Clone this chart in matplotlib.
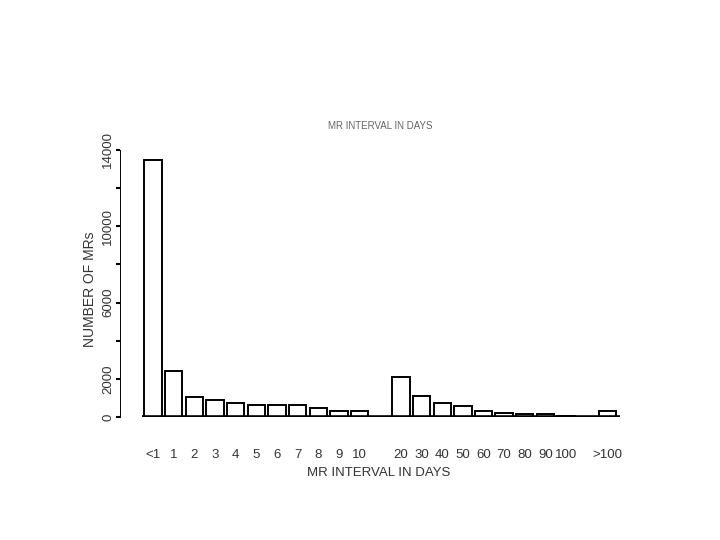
import matplotlib
matplotlib.use('Agg')
import matplotlib.pyplot as plt

plt.rcParams['font.family'] = ['Liberation Sans', 'DejaVu Sans']

# MR interval histogram
categories = ['<1', '1', '2', '3', '4', '5', '6', '7', '8', '9', '10',
              '20', '30', '40', '50', '60', '70', '80', '90', '100', '>100']
counts = [13500, 2420, 1050, 890, 760, 650, 650, 650, 470, 335, 335,
          2120, 1120, 760, 580, 335, 230, 160, 160, 70, 335]
# slot index of each bar, gaps after 10 and after 100
slots = list(range(0, 11)) + list(range(12, 21)) + [22]
y_ticks = [0, 2000, 4000, 6000, 8000, 10000, 12000, 14000]
y_tick_labels = ['0', '2000', '', '6000', '', '10000', '', '14000']

text_color = '#333333'

fig = plt.figure(figsize=(7.2, 5.4), dpi=100)
ax = fig.add_axes([120 / 720, 1 - 417 / 540, 500 / 720, 267 / 540])

ax.bar(slots, counts, width=0.84, color='white', edgecolor='black', linewidth=1.4, zorder=2)
ax.plot([-0.55, 22.61], [0, 0], color='black', linewidth=2.6, solid_capstyle='butt', zorder=3)

ax.set_xlim(-1.6, 22.61)
ax.set_ylim(0, 14000)

for side in ['top', 'right', 'bottom']:
    ax.spines[side].set_visible(False)
ax.spines['left'].set_linewidth(0.7)
ax.spines['left'].set_bounds(0, 14000)

ax.set_yticks(y_ticks)
ax.set_yticklabels(y_tick_labels, rotation=90, va='center')
ax.tick_params(axis='y', length=3.2, width=1.5, pad=0.8, labelsize=9.5, labelcolor=text_color)

ax.set_xticks(slots)
ax.set_xticklabels(categories)
ax.tick_params(axis='x', length=0, pad=23, labelsize=9.5, labelcolor=text_color)

ax.set_xlabel('MR INTERVAL IN DAYS', fontsize=9.5, color=text_color, va='center')
ax.xaxis.set_label_coords(0.518, -0.21)
ax.set_ylabel('NUMBER OF MRs', fontsize=10, color=text_color, va='center')
ax.yaxis.set_label_coords(-0.06, 0.48)

fig.text(380 / 720, 1 - 126 / 540, 'MR INTERVAL IN DAYS', fontsize=7, color='#666666',
         ha='center', va='center')

fig.savefig('out.png', dpi=100)
